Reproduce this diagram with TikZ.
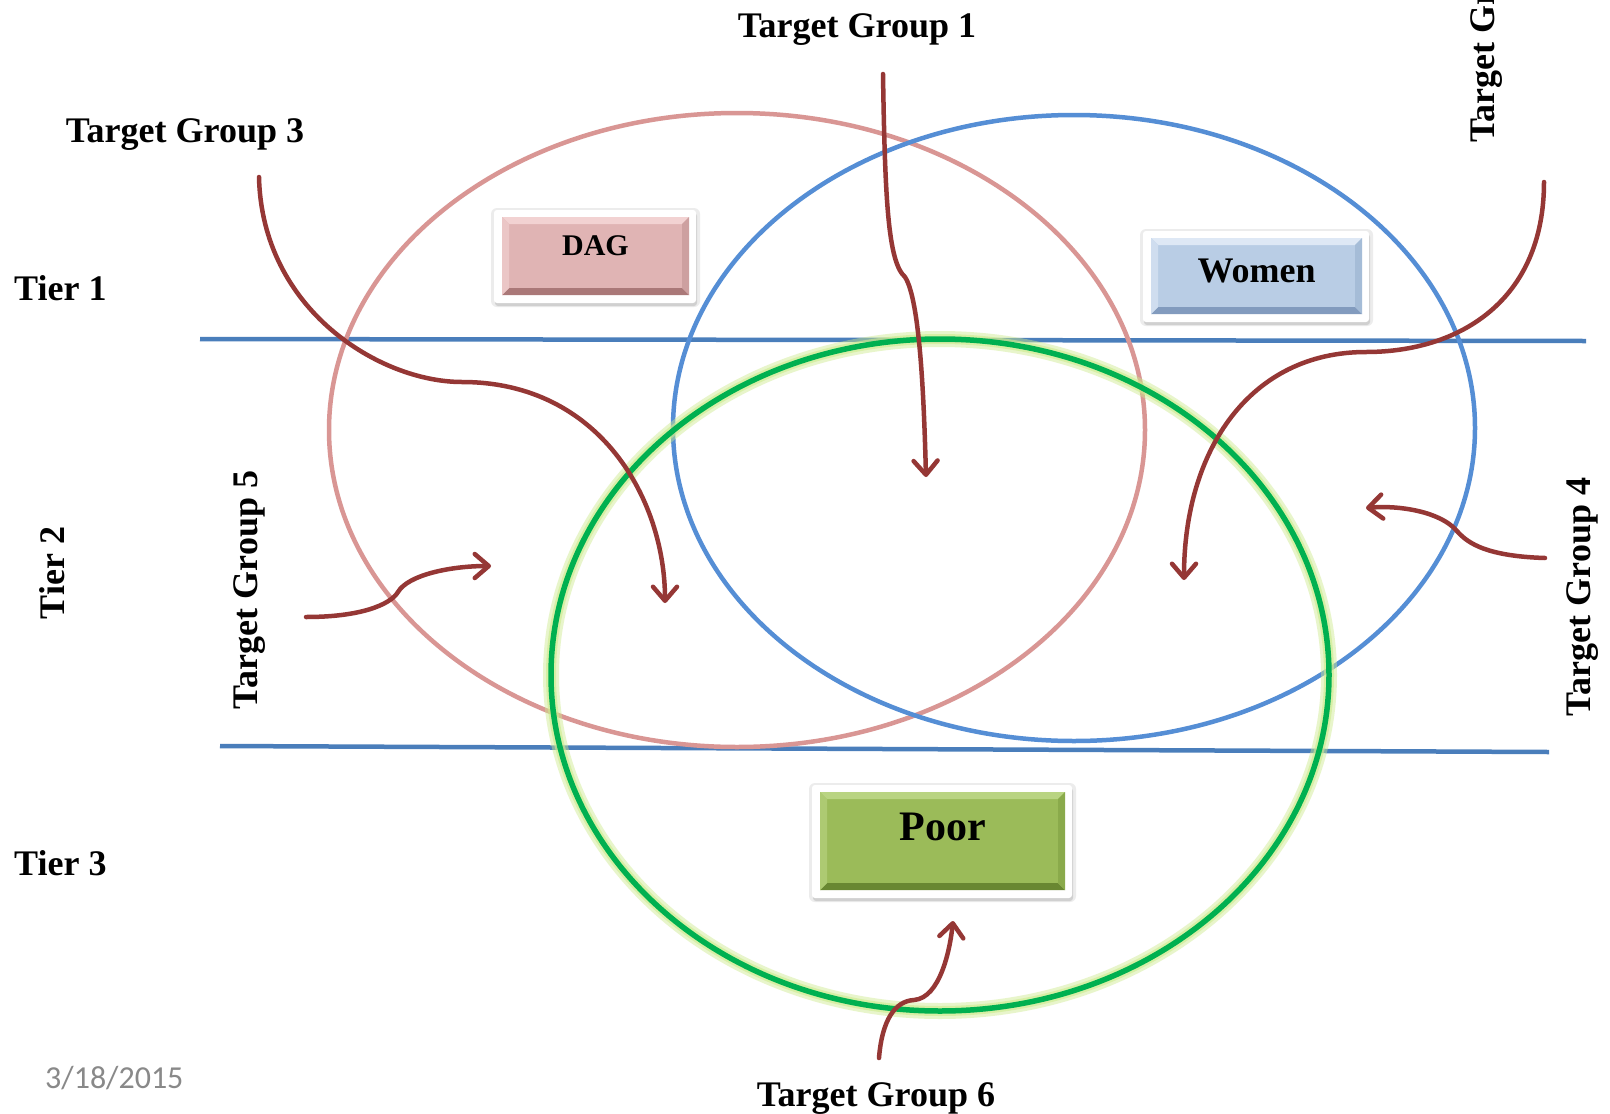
\documentclass[tikz,border=0pt]{standalone}
\usepackage{fontspec}
\setmainfont{Liberation Serif}
\newfontfamily\datefont{Carlito}
\usetikzlibrary{arrows.meta,shadows}

\definecolor{tierblue}{RGB}{74,126,187}
\definecolor{ringpink}{RGB}{217,150,148}
\definecolor{ringblue}{RGB}{85,142,213}
\definecolor{ringgreen}{RGB}{0,176,80}
\definecolor{glowgreen}{RGB}{205,235,140}
\definecolor{arrowred}{RGB}{149,55,53}
\definecolor{dategray}{RGB}{137,137,137}

\definecolor{dagbase}{RGB}{224,180,180}
\definecolor{dagtop}{RGB}{242,210,210}
\definecolor{dagbot}{RGB}{170,120,120}
\definecolor{dagside}{RGB}{205,160,160}
\definecolor{womenbase}{RGB}{185,205,229}
\definecolor{womentop}{RGB}{222,232,245}
\definecolor{womenbot}{RGB}{130,155,190}
\definecolor{womenside}{RGB}{165,188,215}
\definecolor{poorbase}{RGB}{155,187,89}
\definecolor{poortop}{RGB}{185,212,130}
\definecolor{poorbot}{RGB}{105,135,50}
\definecolor{poorside}{RGB}{138,170,75}

\tikzset{
  tierline/.style={draw=tierblue, line width=4.5pt},
  ring/.style={line width=4.5pt},
  tgarrow/.style={draw=arrowred, line width=4.5pt, line cap=round,
    -{Straight Barb[length=14pt,width=24pt,round]}},
  lbl/.style={font=\bfseries\fontsize{36}{40}\selectfont, inner sep=0pt},
  boxlbl/.style={inner sep=0pt, font=\bfseries},
}

% bevelled button: x1, y1, x2, y2, colour prefix, node name, text, font size, text baseline
\newcommand{\bevbox}[9]{%
  \fill[black!12, rounded corners=6pt, opacity=0.6] (#1-11,#2-9) rectangle (#3+11,#4+12);
  \fill[white, rounded corners=3pt,
        drop shadow={opacity=0.25, shadow xshift=1pt, shadow yshift=-3pt}]
    (#1-8,#2-7) rectangle (#3+7,#4+8);
  \fill[#5base] (#1,#2) rectangle (#3,#4);
  \fill[#5top] (#1,#2) -- (#3,#2) -- (#3-7,#2+7) -- (#1+7,#2+7) -- cycle;
  \fill[#5bot] (#1,#4) -- (#3,#4) -- (#3-7,#4-7) -- (#1+7,#4-7) -- cycle;
  \fill[#5side] (#3,#2) -- (#3,#4) -- (#3-7,#4-7) -- (#3-7,#2+7) -- cycle;
  \fill[#5top!60!#5base] (#1,#2) -- (#1,#4) -- (#1+7,#4-7) -- (#1+7,#2+7) -- cycle;
  \node[boxlbl, font=\bfseries\fontsize{#8}{#8}\selectfont, anchor=base]
    (#6) at ({(#1+#3)/2},#9) {#7};
}

\begin{document}
\begin{tikzpicture}[x=1pt, y=-1pt]
\useasboundingbox (0,0) rectangle (1610,1114);
\fill[white] (0,0) rectangle (1610,1114);

% tier separators
\draw[tierline] (200,339) -- (1586,341);
\draw[tierline] (220,746) -- (1549,752);

% target circles
\draw[ring, draw=ringpink] (737,430) ellipse [x radius=408pt, y radius=317pt];
\draw[ring, draw=ringblue] (1074,428) ellipse [x radius=401pt, y radius=313pt];
\draw[draw=glowgreen, line width=16pt, opacity=0.45] (940,675) ellipse [x radius=389pt, y radius=336pt];
\draw[draw=glowgreen, line width=10pt, opacity=0.6] (940,675) ellipse [x radius=389pt, y radius=336pt];
\draw[draw=ringgreen, line width=5.5pt] (940,675) ellipse [x radius=389pt, y radius=336pt];

% group buttons
\bevbox{502}{217}{689}{295}{dag}{dag}{DAG}{30}{255}
\bevbox{1151}{238}{1362}{314}{women}{women}{Women}{36}{282}
\bevbox{820}{792}{1065}{890}{poor}{poor}{Poor}{42}{840}

% labels
\node[lbl, anchor=base] (tg1) at (857,37) {Target Group 1};
\node[lbl, anchor=base] (tg3) at (185,142) {Target Group 3};
\node[lbl, anchor=base] (tg6) at (876,1106) {Target Group 6};
\node[lbl, rotate=90, anchor=west] (tg2) at (1487,143) {Target Group 2};
\node[lbl, rotate=90] (tg4) at (1583,597) {Target Group 4};
\node[lbl, rotate=90] (tg5) at (250,590) {Target Group 5};
\node[lbl, anchor=base west] (tier1) at (14,300) {Tier 1};
\node[lbl, rotate=90] (tier2) at (52,573) {Tier 2};
\node[lbl, anchor=base west] (tier3) at (14,875) {Tier 3};
\node[inner sep=0pt, anchor=base west, text=dategray, font=\datefont\fontsize{32}{36}\selectfont] (date) at (45,1088) {3/18/2015};

% arrow anchors
\coordinate (a1s) at (883,74);
\coordinate (a1e) at (926,477);
\coordinate (a2s) at (1544,182);
\coordinate (a2e) at (1184,580);
\coordinate (a3s) at (259,177);
\coordinate (a3e) at (665,603);
\coordinate (a4s) at (1545,558);
\coordinate (a4e) at (1366,508);
\coordinate (a5s) at (306,617);
\coordinate (a5e) at (491,566);
\coordinate (a6s) at (879,1058);
\coordinate (a6e) at (953,921);

% pointers from each target group
\draw[tgarrow] (a1s) .. controls (885,200) and (888,262) .. (905,277)
  .. controls (920,300) and (924,400) .. (a1e);
\draw[tgarrow] (a2s) .. controls (1544,300) and (1460,352) .. (1366,352)
  .. controls (1250,352) and (1184,450) .. (a2e);
\draw[tgarrow] (a3s) .. controls (262,310) and (380,382) .. (462,382)
  .. controls (600,382) and (665,500) .. (a3e);
\draw[tgarrow] (a4s) .. controls (1480,556) and (1465,540) .. (1456,530)
  .. controls (1440,512) and (1400,505) .. (a4e);
\draw[tgarrow] (a5s) .. controls (360,617) and (390,605) .. (398,592)
  .. controls (408,575) and (450,566) .. (a5e);
\draw[tgarrow] (a6s) .. controls (882,1020) and (895,1001) .. (914,1000)
  .. controls (940,998) and (950,950) .. (a6e);
\end{tikzpicture}
\end{document}
